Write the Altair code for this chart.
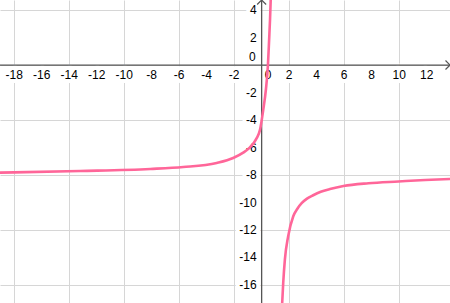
import altair as alt
import pandas as pd

# ---- visible window (data units) ----
X_MIN, X_MAX = -19.03, 13.70
Y_MIN, Y_MAX = -17.31, 4.73

# ---- tick labels ----
x_tick_values = [-18, -16, -14, -12, -10, -8, -6, -4, -2, 2, 4, 6, 8, 10, 12]
y_tick_values = [4, 2, -2, -4, -6, -8, -10, -12, -14, -16]
origin_label = ["0"]
grid_x = list(range(-18, 13, 2))
grid_y = list(range(-16, 5, 2))

# ---- curve ----
branch1_x = [-19.03, -13.2, -8.1, -5.7, -3.27, -2.07, -1.34, -0.85, -0.36, -0.12,
             0.12, 0.31, 0.46, 0.545, 0.61, 0.66]
branch1_y = [-7.83, -7.71, -7.56, -7.42, -7.12, -6.76, -6.37, -5.99, -5.32, -4.72,
             -3.24, -1.78, 0.04, 1.85, 3.31, 4.76]
branch2_x = [1.49, 1.57, 1.69, 1.93, 2.30, 2.60, 2.91, 3.30, 3.75, 4.30, 4.97, 5.95,
             7.77, 9.95, 11.89, 13.70]
branch2_y = [-17.4, -15.84, -14.15, -12.45, -11.0, -10.45, -10.05, -9.72, -9.47, -9.22,
             -9.02, -8.80, -8.60, -8.47, -8.36, -8.29]

curve = pd.DataFrame({
    "x": branch1_x + branch2_x,
    "y": branch1_y + branch2_y,
    "branch": ["a"] * len(branch1_x) + ["b"] * len(branch2_x),
})

def lbl(v):
    return str(v)  # hyphen-minus, as in the picture

xl = pd.DataFrame({"x": x_tick_values, "y": [0] * len(x_tick_values),
                   "t": [lbl(v) for v in x_tick_values]})
yl = pd.DataFrame({"x": [0] * len(y_tick_values), "y": y_tick_values,
                   "t": [lbl(v) for v in y_tick_values]})
ol = pd.DataFrame({"x": [0], "y": [0], "t": origin_label})

xs = alt.Scale(domain=[X_MIN, X_MAX], nice=False, zero=False)
ys = alt.Scale(domain=[Y_MIN, Y_MAX], nice=False, zero=False)

GRID = "#d6d6d6"
AXIS = "#555555"
FONT = "Liberation Sans"
FS = 12

# grid layer
grid = alt.Chart(curve).mark_point(opacity=0).encode(
    x=alt.X("x:Q", scale=xs, axis=alt.Axis(values=grid_x, grid=True, labels=False, ticks=False,
                                           domain=False, title=None, gridColor=GRID, gridWidth=1)),
    y=alt.Y("y:Q", scale=ys, axis=alt.Axis(values=grid_y, grid=True, labels=False, ticks=False,
                                           domain=False, title=None, gridColor=GRID, gridWidth=1)),
)

def text_layers(df, **kw):
    halo = alt.Chart(df).mark_text(font=FONT, fontSize=FS, stroke="white", strokeWidth=8,
                                   fill="white", **kw).encode(
        x=alt.X("x:Q", scale=xs), y=alt.Y("y:Q", scale=ys), text="t:N")
    txt = alt.Chart(df).mark_text(font=FONT, fontSize=FS, fill="#000000", **kw).encode(
        x=alt.X("x:Q", scale=xs), y=alt.Y("y:Q", scale=ys), text="t:N")
    return [halo, txt]

layers = [grid]
layers += text_layers(xl, align="center", baseline="middle", dy=10)
layers += text_layers(yl, align="right", baseline="middle", dx=-5)
layers += text_layers(ol, align="left", baseline="middle", dx=3, dy=10)
layers += text_layers(ol, align="right", baseline="middle", dx=-6, dy=-8)

axes_df_x = pd.DataFrame({"x": [X_MIN], "x2": [X_MAX], "y": [0]})
axes_df_y = pd.DataFrame({"x": [0], "y": [Y_MIN], "y2": [Y_MAX]})
xaxis = alt.Chart(axes_df_x).mark_rule(color=AXIS, strokeWidth=1.3).encode(
    x=alt.X("x:Q", scale=xs), x2="x2:Q", y=alt.Y("y:Q", scale=ys))
yaxis = alt.Chart(axes_df_y).mark_rule(color=AXIS, strokeWidth=1.3).encode(
    x=alt.X("x:Q", scale=xs), y=alt.Y("y:Q", scale=ys), y2="y2:Q")

arrow_x = alt.Chart(pd.DataFrame({"x": [X_MAX], "y": [0]})).mark_point(
    shape="M-1,-1L0,0L-1,1", size=81, filled=False, stroke=AXIS, strokeWidth=1.2, opacity=1
).encode(x=alt.X("x:Q", scale=xs), y=alt.Y("y:Q", scale=ys))
arrow_y = alt.Chart(pd.DataFrame({"x": [0], "y": [Y_MAX]})).mark_point(
    shape="M-1,1L0,0L1,1", size=81, filled=False, stroke=AXIS, strokeWidth=1.2, opacity=1
).encode(x=alt.X("x:Q", scale=xs), y=alt.Y("y:Q", scale=ys))

line = alt.Chart(curve).mark_line(color="#ff6699", strokeWidth=2.6, interpolate="monotone",
                                  clip=True).encode(
    x=alt.X("x:Q", scale=xs), y=alt.Y("y:Q", scale=ys), detail="branch:N")

layers += [xaxis, yaxis, arrow_x, arrow_y, line]

chart = alt.layer(*layers).properties(
    width=450, height=303, padding=0, autosize=alt.AutoSizeParams(type="none"),
    background="white",
).configure_view(stroke=None)

chart.save("out.html", embed_options={"renderer": "svg", "actions": False})
